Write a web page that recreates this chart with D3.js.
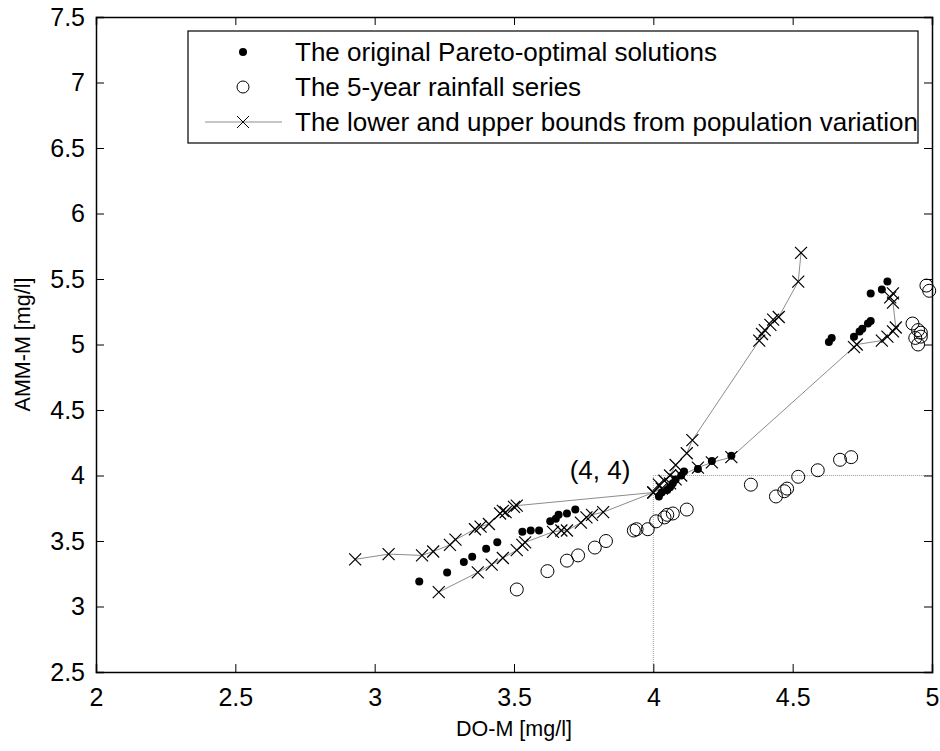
<!DOCTYPE html>
<html>
<head>
<meta charset="utf-8">
<script src="https://cdn.jsdelivr.net/npm/d3@7"></script>
<style>
  body { margin: 0; background: #fff; }
  svg text { font-family: "Liberation Sans", Arial, sans-serif; fill: #000; }
</style>
</head>
<body>
<svg id="chart" width="940" height="751"></svg>
<script>
// original Pareto-optimal solutions
var paretoX = [3.16, 3.26, 3.32, 3.35, 3.40, 3.44, 3.53, 3.56, 3.59, 3.63, 3.65, 3.66, 3.69, 3.72,
  4.02, 4.03, 4.05, 4.06, 4.07, 4.08, 4.10, 4.11, 4.16, 4.21, 4.28,
  4.63, 4.64, 4.72, 4.74, 4.75, 4.77, 4.78, 4.78, 4.82, 4.84];
var paretoY = [3.19, 3.26, 3.34, 3.38, 3.44, 3.49, 3.57, 3.58, 3.58, 3.65, 3.67, 3.70, 3.71, 3.74,
  3.84, 3.87, 3.89, 3.91, 3.94, 3.97, 4.00, 4.03, 4.05, 4.11, 4.15,
  5.02, 5.05, 5.06, 5.10, 5.12, 5.16, 5.18, 5.39, 5.42, 5.48];

// 5-year rainfall series
var rainX = [3.51, 3.62, 3.69, 3.73, 3.79, 3.83, 3.93, 3.94, 3.98, 4.01, 4.04, 4.05, 4.07, 4.12,
  4.35, 4.44, 4.47, 4.48, 4.52, 4.59, 4.67, 4.71,
  4.93, 4.95, 4.96, 4.94, 4.95, 4.96, 4.98, 4.99];
var rainY = [3.13, 3.27, 3.35, 3.39, 3.45, 3.50, 3.58, 3.59, 3.59, 3.65, 3.68, 3.70, 3.71, 3.74,
  3.93, 3.84, 3.88, 3.90, 3.99, 4.04, 4.12, 4.14,
  5.16, 5.11, 5.09, 5.05, 5.00, 5.06, 5.45, 5.41];

// bounds from population variation
var upperX = [2.93, 3.05, 3.17, 3.21, 3.27, 3.29, 3.36, 3.38, 3.41, 3.45, 3.46, 3.47, 3.50, 3.51,
  4.00, 4.02, 4.04, 4.06, 4.08, 4.12, 4.14, 4.38, 4.39, 4.40, 4.42, 4.43, 4.45, 4.52, 4.53];
var upperY = [3.36, 3.40, 3.39, 3.42, 3.47, 3.51, 3.59, 3.61, 3.63, 3.71, 3.73, 3.72, 3.76, 3.77,
  3.87, 3.93, 3.96, 4.00, 4.08, 4.17, 4.27, 5.03, 5.08, 5.11, 5.15, 5.19, 5.21, 5.48, 5.70];
var lowerX = [3.23, 3.37, 3.42, 3.46, 3.51, 3.53, 3.54, 3.64, 3.67, 3.69, 3.74, 3.76, 3.78, 3.82,
  4.00, 4.03, 4.06, 4.08, 4.10, 4.16, 4.21, 4.28, 4.72, 4.73, 4.82, 4.84, 4.86, 4.87, 4.86, 4.85, 4.86];
var lowerY = [3.11, 3.26, 3.32, 3.37, 3.43, 3.47, 3.49, 3.57, 3.58, 3.58, 3.64, 3.68, 3.70, 3.72,
  3.87, 3.90, 3.94, 3.97, 4.00, 4.06, 4.10, 4.14, 4.98, 5.00, 5.03, 5.06, 5.10, 5.13, 5.32, 5.36, 5.39];

var xTicks = [2, 2.5, 3, 3.5, 4, 4.5, 5];
var yTicks = [2.5, 3, 3.5, 4, 4.5, 5, 5.5, 6, 6.5, 7, 7.5];
var refPoint = [4, 4];
var legendLabels = ["The original Pareto-optimal solutions", "The 5-year rainfall series",
  "The lower and upper bounds from population variation"];

(function() {

    var svg = d3.select("#chart"),
        pl = 96, pr = 932, pt = 17, pb = 672;

    var x = d3.scaleLinear().domain([2, 5]).range([pl, pr]);
    var y = d3.scaleLinear().domain([2.5, 7.5]).range([pb, pt]);

    function zip(a, b) { return a.map(function(v, i) { return [v, b[i]]; }); }

    // reference lines to (4, 4)
    svg.append("path")
        .attr("d", "M" + x(refPoint[0]) + "," + y(2.5) + "V" + y(refPoint[1]) + "H" + x(5))
        .attr("fill", "none")
        .attr("stroke", "#999")
        .attr("stroke-width", 1)
        .attr("stroke-dasharray", "1,1");

    svg.append("text")
        .attr("x", 600).attr("y", 479)
        .attr("text-anchor", "middle")
        .attr("font-size", 26)
        .text("(" + refPoint[0] + ", " + refPoint[1] + ")");

    var line = d3.line().x(function(d) { return x(d[0]); }).y(function(d) { return y(d[1]); });

    function drawX(g, pts) {
        g.selectAll(null).data(pts).enter().append("path")
            .attr("d", function(d) {
                var cx = x(d[0]), cy = y(d[1]), s = 6;
                return "M" + (cx - s) + "," + (cy - s) + "L" + (cx + s) + "," + (cy + s) +
                    "M" + (cx - s) + "," + (cy + s) + "L" + (cx + s) + "," + (cy - s);
            })
            .attr("stroke", "#000")
            .attr("stroke-width", 1.2);
    }

    [zip(upperX, upperY), zip(lowerX, lowerY)].forEach(function(pts) {
        svg.append("path").datum(pts)
            .attr("d", line)
            .attr("fill", "none")
            .attr("stroke", "#8c8c8c")
            .attr("stroke-width", 1);
        drawX(svg.append("g"), pts);
    });

    svg.append("g").selectAll("circle").data(zip(paretoX, paretoY)).enter().append("circle")
        .attr("cx", function(d) { return x(d[0]); })
        .attr("cy", function(d) { return y(d[1]); })
        .attr("r", 4)
        .attr("fill", "#000");

    svg.append("g").selectAll("circle").data(zip(rainX, rainY)).enter().append("circle")
        .attr("cx", function(d) { return x(d[0]); })
        .attr("cy", function(d) { return y(d[1]); })
        .attr("r", 6.5)
        .attr("fill", "none")
        .attr("stroke", "#000")
        .attr("stroke-width", 1);

    // axes (MATLAB box, ticks inward)
    var tick = 8;
    function style(g) {
        g.selectAll("text").attr("font-size", 25).attr("font-family", "Liberation Sans, Arial");
    }
    svg.append("g").attr("transform", "translate(0," + pb + ")")
        .call(d3.axisBottom(x).tickValues(xTicks).tickSize(-tick).tickPadding(16).tickFormat(d3.format("")))
        .call(style);
    svg.append("g").attr("transform", "translate(0," + pt + ")")
        .call(d3.axisTop(x).tickValues(xTicks).tickSize(-tick).tickFormat(""));
    svg.append("g").attr("transform", "translate(" + pl + ",0)")
        .call(d3.axisLeft(y).tickValues(yTicks).tickSize(-tick).tickPadding(11).tickFormat(d3.format("")))
        .call(style);
    svg.append("g").attr("transform", "translate(" + pr + ",0)")
        .call(d3.axisRight(y).tickValues(yTicks).tickSize(-tick).tickFormat(""));
    svg.selectAll(".domain").attr("stroke", "#000").attr("stroke-width", 1.5);
    svg.selectAll(".tick line").attr("stroke", "#000");

    svg.append("text")
        .attr("x", (pl + pr) / 2).attr("y", 736)
        .attr("text-anchor", "middle")
        .attr("font-size", 21.5)
        .text("DO-M [mg/l]");
    svg.append("text")
        .attr("transform", "translate(30," + ((pt + pb) / 2) + ") rotate(-90)")
        .attr("text-anchor", "middle")
        .attr("font-size", 21.5)
        .text("AMM-M [mg/l]");

    // legend
    var lg = svg.append("g");
    lg.append("rect")
        .attr("x", 188).attr("y", 31).attr("width", 730).attr("height", 112)
        .attr("fill", "#fff").attr("stroke", "#000").attr("stroke-width", 1.2);
    var rows = [52, 87, 122];
    lg.append("circle").attr("cx", 243).attr("cy", rows[0]).attr("r", 4).attr("fill", "#000");
    lg.append("circle").attr("cx", 243).attr("cy", rows[1]).attr("r", 6).attr("fill", "none").attr("stroke", "#000");
    lg.append("line").attr("x1", 205).attr("x2", 282).attr("y1", rows[2]).attr("y2", rows[2])
        .attr("stroke", "#8c8c8c").attr("stroke-width", 1);
    lg.append("path")
        .attr("d", "M237," + (rows[2] - 6) + "L249," + (rows[2] + 6) + "M237," + (rows[2] + 6) + "L249," + (rows[2] - 6))
        .attr("stroke", "#000").attr("stroke-width", 1);
    lg.selectAll("text.lab").data(legendLabels).enter().append("text")
        .attr("class", "lab")
        .attr("x", 295)
        .attr("y", function(d, i) { return rows[i] + 9; })
        .attr("font-size", 26)
        .text(function(d) { return d; });
})();
</script>
</body>
</html>
